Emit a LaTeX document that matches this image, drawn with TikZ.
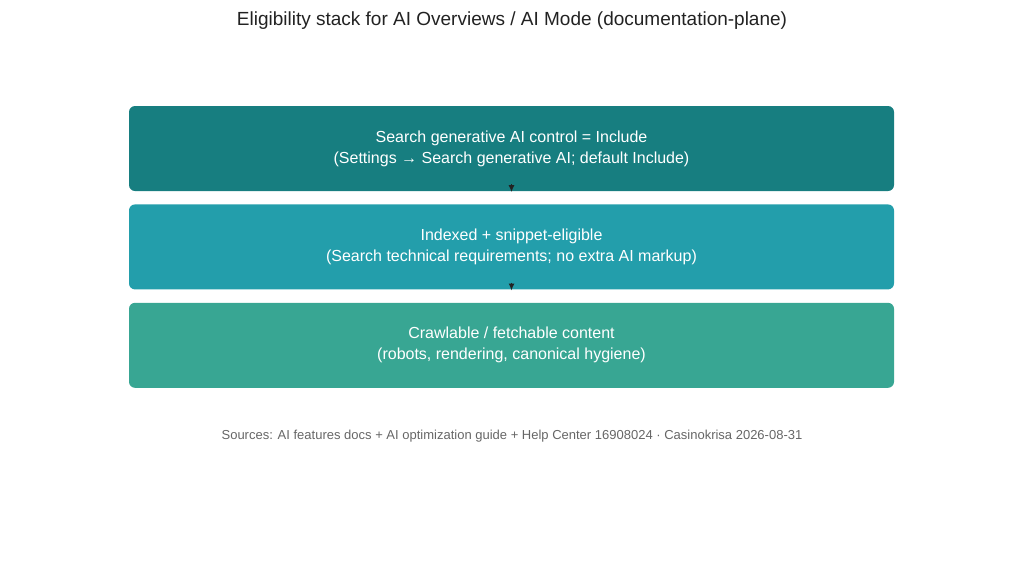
\documentclass[tikz,border=0pt]{standalone}
\usepackage{fontspec}
\setmainfont{Liberation Sans}
\usetikzlibrary{positioning,arrows.meta}
\definecolor{topc}{HTML}{177E80}
\definecolor{midc}{HTML}{239EAB}
\definecolor{botc}{HTML}{38A693}
\definecolor{ink}{HTML}{222222}
\definecolor{srcc}{HTML}{666666}
\tikzset{
  layer/.style={rounded corners=6pt, minimum width=765pt, minimum height=85pt,
    text=white, align=center, font=\fontsize{16}{21}\selectfont, inner sep=0pt},
  line/.style={draw=ink, line width=1.4pt, -{Latex[length=7pt,width=6pt]}}
}
\begin{document}
\begin{tikzpicture}[x=1pt,y=-1pt]
 \useasboundingbox (0,0) rectangle (1024,576);
 \node[text=ink, font=\fontsize{19}{23}\selectfont] (title) at (512,21)
   {Eligibility stack for AI Overviews / AI Mode (documentation-plane)};
 \node[layer, fill=topc] (control) at (511.5,148.5)
   {Search generative AI control = Include\\(Settings → Search generative AI; default Include)};
 \node[layer, fill=midc, below=13pt of control] (indexed)
   {Indexed + snippet-eligible\\(Search technical requirements; no extra AI markup)};
 \node[layer, fill=botc, below=13pt of indexed] (crawl)
   {Crawlable / fetchable content\\(robots, rendering, canonical hygiene)};
 \node[text=srcc, font=\fontsize{13}{16}\selectfont] (sources) at (512,436)
   {Sources: AI features docs + AI optimization guide + Help Center 16908024 · Casinokrisa 2026-08-31};
 \begin{scope}[every path/.style=line]
   \path ([yshift=20pt]crawl.north) -- ([yshift=-1pt]indexed.south);
   \path ([yshift=20pt]indexed.north) -- ([yshift=-1pt]control.south);
 \end{scope}
\end{tikzpicture}
\end{document}
